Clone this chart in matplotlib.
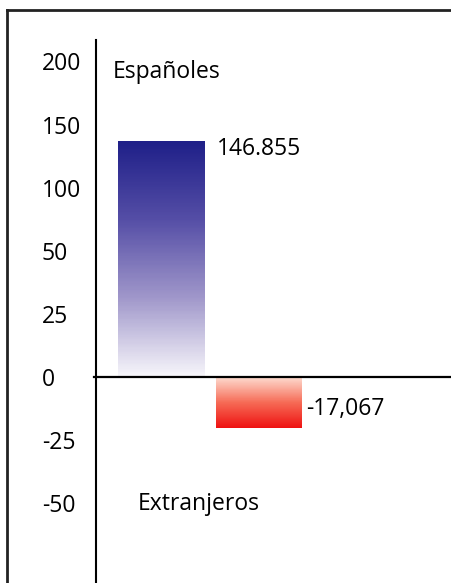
import matplotlib.pyplot as plt
import numpy as np
from matplotlib.colors import LinearSegmentedColormap
from matplotlib.lines import Line2D

# datos
categorias = ['Españoles', 'Extranjeros']
alturas = [137, -20.5]              # altura de las barras leida sobre el eje
etiquetas = ['146.855', '-17,067']  # rotulos de las barras
ticks_y = [-50, -25, 0, 25, 50, 100, 150, 200]

plt.rcParams['font.family'] = ['Open Sans', 'DejaVu Sans']

# escala no lineal: cada tick ocupa el mismo espacio
vals_ext = np.array([-150, -50, -25, 0, 25, 50, 100, 150, 200, 400])
pos_ext = np.array([-6, -2, -1, 0, 1, 2, 3, 4, 5, 9], dtype=float)

def adelante(v):
    return np.interp(v, vals_ext, pos_ext)

def atras(p):
    return np.interp(p, pos_ext, vals_ext)

fig = plt.figure(figsize=(4.52, 5.83), dpi=100)
ax = fig.add_axes([96 / 452, 0, 1 - 96 / 452, 543 / 583])
ax.set_yscale('function', functions=(adelante, atras))
ax.set_ylim(atras(-3.27), atras(5.34))
ax.set_xlim(-0.672, 2.98)

# degradados: 0 = junto al eje cero, 1 = extremo de la barra
cmaps = [
    LinearSegmentedColormap.from_list('azul', ['#f6f5fa', '#a097ca', '#554ea6', '#1f1f88']),
    LinearSegmentedColormap.from_list('rojo', ['#fddcd0', '#f66a55', '#ee1010']),
]

barras = ax.bar(range(len(categorias)), alturas, width=0.89, color='none', edgecolor='none')
for rect, cmap in zip(barras, cmaps):
    x0, w = rect.get_x(), rect.get_width()
    y0, h = rect.get_y(), rect.get_height()
    n = 200
    yy = atras(np.linspace(adelante(y0), adelante(y0 + h), n + 1))
    C = np.linspace(0, 1, n).reshape(-1, 1)
    ax.pcolormesh([x0, x0 + w], yy, C, cmap=cmap, shading='flat',
                  edgecolors='none', antialiased=False, zorder=2)

# rotulos de valores
r0, r1 = barras
ax.annotate(etiquetas[0], xy=(r0.get_x() + r0.get_width(), alturas[0]),
            xytext=(9, -6), textcoords='offset points', va='center', ha='left',
            fontsize=16.5)
ax.annotate(etiquetas[1], xy=(r1.get_x() + r1.get_width(), alturas[1] / 2),
            xytext=(3, -4.5), textcoords='offset points', va='center', ha='left',
            fontsize=16.5)

# nombres de las categorias
ax.text(0.048, 0.941, categorias[0], transform=ax.transAxes, fontsize=16.5,
        va='center', ha='left')
ax.text(0.118, 0.1455, categorias[1], transform=ax.transAxes, fontsize=16.5,
        va='center', ha='left')

# ejes
ax.set_yticks(ticks_y)
ax.set_yticklabels([str(t) for t in ticks_y], ha='left')
ax.tick_params(axis='y', length=0, pad=39, labelsize=16.5)
ax.set_xticks([])
for s in ['top', 'right', 'bottom']:
    ax.spines[s].set_visible(False)
ax.spines['left'].set_linewidth(1.5)
ax.axhline(0, xmin=-0.005, xmax=1, color='black', linewidth=1.6, clip_on=False, zorder=3)

# marco exterior (solo se ven los lados superior e izquierdo)
y_marco = 1 - 10 / 583
x_marco = 7 / 452
fig.add_artist(Line2D([x_marco, 1.05], [y_marco, y_marco], transform=fig.transFigure,
                      color='#222222', linewidth=2))
fig.add_artist(Line2D([x_marco, x_marco], [-0.05, y_marco], transform=fig.transFigure,
                      color='#222222', linewidth=2))

fig.savefig('out.png', dpi=100)
